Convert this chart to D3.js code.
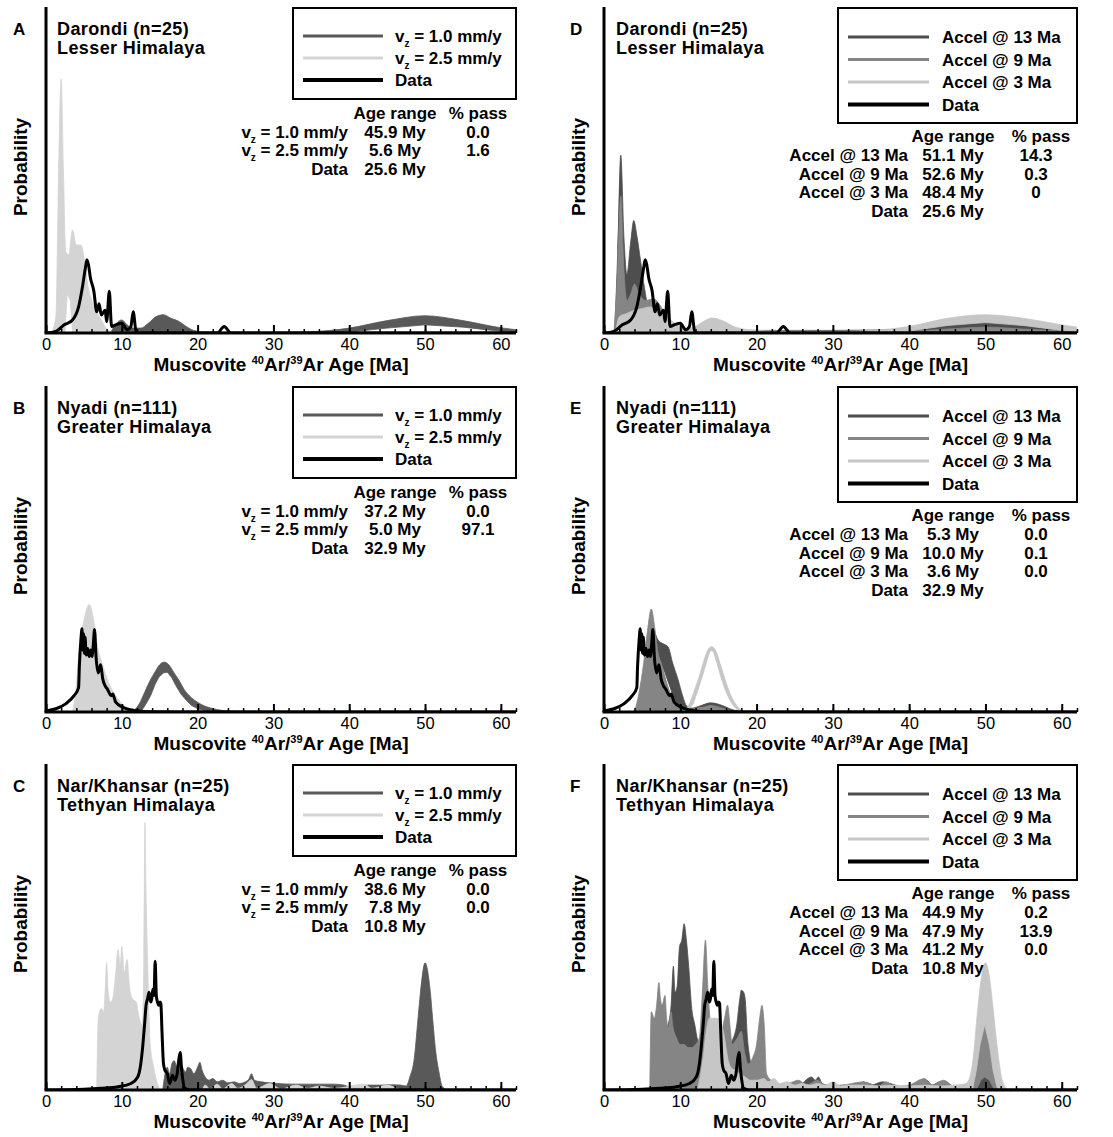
<!DOCTYPE html>
<html>
<head>
<meta charset="utf-8">
<script src="https://cdn.jsdelivr.net/npm/d3@7"></script>
<style>
  body { margin: 0; background: #fff; }
  svg { font-family: "Liberation Sans", Arial, Helvetica, sans-serif; }
</style>
</head>
<body>
<div id="app"></div>
<script>
// ---- Data (age in Ma, relative probability 0-100 of axis height) ----
const AGE_DOMAIN = [0, 62];
const PROB_DOMAIN = [0, 100];
const MAJOR_TICKS = [0, 10, 20, 30, 40, 50, 60];

const LEGEND_V = ["v_z = 1.0 mm/y", "v_z = 2.5 mm/y", "Data"];
const LEGEND_ACCEL = ["Accel @ 13 Ma", "Accel @ 9 Ma", "Accel @ 3 Ma", "Data"];
const TABLE_HEADER = ["Age range", "% pass"];
const ROWS_V = ["v_z = 1.0 mm/y", "v_z = 2.5 mm/y", "Data"];
const ROWS_ACCEL = ["Accel @ 13 Ma", "Accel @ 9 Ma", "Accel @ 3 Ma", "Data"];

const darondiRangeV = ["45.9 My", "5.6 My", "25.6 My"];
const darondiPassV = ["0.0", "1.6"];
const nyadiRangeV = ["37.2 My", "5.0 My", "32.9 My"];
const nyadiPassV = ["0.0", "97.1"];
const narRangeV = ["38.6 My", "7.8 My", "10.8 My"];
const narPassV = ["0.0", "0.0"];
const darondiRangeA = ["51.1 My", "52.6 My", "48.4 My", "25.6 My"];
const darondiPassA = ["14.3", "0.3", "0"];
const nyadiRangeA = ["5.3 My", "10.0 My", "3.6 My", "32.9 My"];
const nyadiPassA = ["0.0", "0.1", "0.0"];
const narRangeA = ["44.9 My", "47.9 My", "41.2 My", "10.8 My"];
const narPassA = ["0.2", "13.9", "0.0"];

// measured age PDFs
const darondiData = [[0,0],[1.3,0.5],[2.4,2.5],[3.5,4],[4.3,8],[4.8,14],[5.2,20],[5.4,22.5],[5.6,21],[5.85,17],[6.3,13],[6.7,6.5],[7.0,9],[7.3,5.5],[7.8,7],[8.0,3.5],[8.35,12.8],[8.65,2],[9.2,2.5],[10,3],[10.7,1],[11.2,2],[11.5,6.5],[11.9,0.3],[12.5,0],[22.6,0],[23.5,2],[24.4,0],[62,0]];
const nyadiData = [[0,0.3],[1.3,1],[2.6,2.5],[3.7,5],[4.3,7.5],[4.4,14],[4.6,22],[4.75,25.5],[4.85,19],[4.95,24],[5.05,18],[5.15,23],[5.3,17.5],[5.5,19.5],[5.7,17],[5.9,19],[6.1,17],[6.25,21],[6.4,25.3],[6.6,17],[6.9,12],[7.2,14.5],[7.5,10],[7.8,8],[8.1,7],[8.6,5],[8.8,5.5],[9.2,3],[10.1,1.5],[11.6,0.5],[13.8,0.1],[20,0],[62,0]];
const narData = [[0,0],[5,0.2],[7.3,0.5],[9.5,1],[11.2,2],[12.1,4],[12.5,8],[12.7,12],[13.0,20],[13.2,26],[13.4,28],[13.6,30],[13.8,27],[13.95,28],[14.1,31],[14.25,29],[14.4,39.5],[14.55,29],[14.7,27],[14.85,26],[15.05,27],[15.15,26.5],[15.3,18],[15.5,8],[15.7,6],[16.0,5],[16.3,2],[16.7,4.5],[17.0,3],[17.3,5],[17.5,9],[17.7,11.5],[17.9,6],[18.0,4],[18.3,0.5],[19,0],[62,0]];

// model envelopes, constant-velocity runs (upper and lower edges)
const darondiV10Upper = [[8.5,0],[9.3,3],[10,4],[10.7,2.5],[11.5,1.5],[12.5,1.5],[13.5,3],[14.5,5],[15.5,5.6],[16.5,4.5],[17.5,3.6],[18.5,2],[19.5,0.8],[21,0.3],[30,0.2],[35,0.4],[40,1.5],[45,3.8],[50,5.3],[55,3.8],[60,1.6],[62,1]];
const darondiV10Lower = [[8.5,0],[35,0],[40,0.3],[45,1.5],[50,2.5],[55,1.8],[60,0.5],[62,0.3]];
const darondiV25Upper = [[0.7,0],[1.3,5],[1.6,40],[2.0,78],[2.3,50],[2.6,25],[3.0,24],[3.5,31.6],[4.0,27],[4.6,27],[5.1,22],[5.5,15],[6.2,9],[7.3,4],[8.1,1],[9,0]];
const darondiV25Lower = [[0.7,0],[2.5,0],[2.8,12],[3.2,10],[3.5,0],[9,0]];

const nyadiV10Upper = [[11,0],[11.6,0.5],[12.3,2.5],[13,6],[13.7,9.5],[14.3,12],[15,14.5],[15.6,15.3],[16.2,14.5],[16.9,12],[17.6,9.5],[18.2,7],[18.9,5],[19.6,3.6],[20.5,2.3],[21.3,1.5],[22.5,0.8],[24,0.3],[27,0]];
const nyadiV10Lower = [[11,0],[12.5,0],[13.2,2.5],[13.8,5],[14.4,8.5],[14.9,10.7],[15.5,12],[16.0,12.2],[16.6,10.5],[17.1,8.2],[17.8,5.5],[18.5,3.6],[19.2,2],[20,1],[21,0.4],[22,0],[27,0]];
const nyadiV25Upper = [[3.5,0],[4.0,8],[4.4,20],[5.0,28],[5.7,33],[6.3,28],[6.8,20],[7.4,15],[8.1,10],[8.8,6.5],[9.5,4],[10.8,1],[12,0]];
const nyadiV25Lower = [[3.5,0],[12,0]];

const narV10Upper = [[15.4,0],[15.8,6],[16.0,7],[16.3,5],[16.6,8],[16.9,9],[17.3,7],[17.6,8.5],[18.0,7],[18.4,5.5],[18.7,7],[19.1,6.5],[19.5,5],[20.0,7],[20.3,8.5],[20.6,6],[21.0,4],[21.5,3],[22.0,3.5],[22.6,2.5],[23.3,3],[24,2.2],[24.8,2.5],[25.5,2],[26.3,2.5],[26.8,3.5],[27.1,5],[27.5,3],[28.4,2.5],[29.5,2.2],[30.5,2],[32.5,1.8],[36,1.8],[38,1.8],[39.3,1.5],[40.5,0.7],[41.5,1.2],[42.4,1.5],[44,1.5],[45.5,1.6],[46.8,1.5],[47.5,1.2],[48.0,4],[48.6,10],[49.0,20],[49.4,30],[50.0,39],[50.7,30],[51.0,22],[51.4,12],[51.8,6],[52.3,1],[53,0],[62,0]];
const narV10Lower = [[15.4,0],[62,0]];
const narV25Upper = [[6.7,0],[6.9,22],[7.3,25],[7.6,24],[7.75,28],[8.0,39],[8.2,30],[8.5,27],[8.8,28],[9.2,36],[9.5,43],[9.8,38],[10.0,44],[10.3,36],[10.7,40],[11.0,32],[11.4,28],[11.9,27],[12.3,22],[12.7,20],[12.9,40],[13.05,82],[13.2,60],[13.4,40],[13.75,14],[14.2,7],[14.7,2],[15.2,0],[20.5,0],[21,1.5],[21.6,0.3],[22.6,1.8],[23.3,0.3],[24.5,2],[25.3,0.5],[26.5,2],[27.1,3.2],[27.8,0.5],[29.5,2],[31,0.3],[33,1.5],[34.5,0.5],[36,1.2],[38,0.5],[42,1.8],[43,0.5],[45,1.5],[47,0],[62,0]];
const narV25Lower = [[6.7,0],[62,0]];

// model envelopes, accelerated runs
const darondiA13Upper = [[1.4,0],[1.8,25],[2.2,54.6],[2.6,30],[3.0,18],[3.5,28],[3.9,34.5],[4.3,30],[4.8,22],[5.3,14],[5.8,8],[6.5,7],[7.5,5],[8.5,3],[10,1.5],[12,1],[20,0.8],[30,0.8],[40,1.2],[45,2.4],[50,3.2],[55,2.4],[60,1.2],[62,0.8]];
const darondiA13Lower = [[1.4,0],[40,0],[45,1],[50,1.8],[55,1],[62,0.3]];
const darondiA9Upper = [[1.3,0],[1.7,15],[2.2,42],[2.6,20],[3.0,10],[3.5,12],[4.0,15],[4.6,12],[5.5,10],[6.5,10.5],[7.2,9],[8,6],[9,3],[10,1.5],[12,0.5],[20,0.3],[40,0.6],[45,1.2],[50,1.8],[55,1.2],[62,0.4]];
const darondiA9Lower = [[1.3,0],[62,0]];
const darondiA3Upper = [[1.5,0],[2.0,5],[3,6],[4,7],[5,7.5],[6,8],[7,7],[8,5.5],[9,3.5],[10,2],[11,1.5],[12,2],[13,3.5],[14.2,4.6],[15.5,3.8],[17,2],[19,1],[22,0.6],[30,0.5],[35,0.8],[40,2],[45,4.5],[50,5.6],[55,4.5],[60,2.5],[62,1.8]];
const darondiA3Lower = [[1.5,0],[38,0],[40,0.6],[45,2.3],[50,3.2],[55,2.3],[60,0.8],[62,0.5]];

const nyadiA13Upper = [[4.0,0],[4.5,3],[5.2,10],[5.8,18],[6.2,25],[6.7,24],[7.1,22],[7.7,21],[8.4,20],[9.0,15],[9.7,10],[10.3,5],[10.8,2],[11.5,1.2],[12.5,1.8],[14,2.8],[15.5,2],[16.5,1],[17.5,0.3],[19,0]];
const nyadiA13Lower = [[4.0,0],[5.3,0],[6.0,8],[6.6,15],[7.5,15],[8.0,12],[8.6,8],[9.2,4],[9.7,2],[10.5,0],[19,0]];
const nyadiA9Upper = [[4.0,0],[4.6,6],[5.2,15],[5.7,25],[6.2,31.6],[6.7,25],[7.1,18],[7.5,15],[8.1,10],[8.8,5],[9.5,2.5],[10.1,1.5],[11.5,1],[13,1.5],[14,2],[15.5,1.2],[17,0]];
const nyadiA9Lower = [[4.0,0],[17,0]];
const nyadiA3Upper = [[10.3,0],[11.2,2.5],[11.9,7],[12.5,11],[13.0,15],[13.6,19],[14.1,20],[14.6,19],[15.2,15],[15.8,10.5],[16.3,7],[16.9,3.8],[17.4,2],[18,0.5],[18.5,0]];
const nyadiA3Lower = [[10.8,0],[11.7,2.5],[12.35,7],[12.9,11],[13.4,15],[13.85,18.5],[14.1,18.8],[14.35,18.5],[14.8,15],[15.35,10.5],[15.85,7],[16.45,3.8],[16.95,2],[17.5,0.5],[18,0]];

const narA13Upper = [[6.4,0],[6.6,12],[7.0,14],[7.6,16],[8.0,18],[8.4,20],[8.8,26],[9.1,38],[9.3,30],[9.6,32],[9.9,44],[10.2,46],[10.5,51],[10.8,46],[11.1,38],[11.5,25],[11.9,20],[12.3,15],[12.8,13],[13.2,12],[13.6,14],[14.2,12],[15,10],[15.6,9],[16.2,12],[16.8,15],[17.4,20],[17.8,28],[18.0,30.6],[18.3,30],[18.5,28],[18.8,16],[19.1,10],[19.5,6],[19.8,4],[20.5,2.5],[21.5,1.5],[23,1],[25,1.5],[26,2],[26.7,3.5],[27.2,4],[27.7,3],[28.1,4],[28.6,2],[30,1.2],[33,1],[34,2.5],[35,1.5],[36.5,2.5],[37.5,2],[39,1],[40,0.8],[41.5,1.5],[42.3,3],[43,1.5],[44,2.5],[45,2],[46,1],[48,1],[49,3],[49.9,4],[51,3],[52,0.5],[53,0],[62,0]];
const narA13Lower = [[6.4,0],[62,0]];
const narA9Upper = [[6.0,0],[6.2,24],[6.6,22],[6.9,26],[7.2,33],[7.4,28],[7.6,26],[8.0,29],[8.2,22],[8.4,19],[8.8,24],[9.0,20],[9.5,16],[10,14],[10.5,14],[11,13],[11.5,13],[12,14],[12.5,16],[12.9,30],[13.3,46],[13.6,32],[14.0,20],[14.5,18],[15.0,18],[15.4,18],[15.8,22],[16.2,26],[16.5,20],[16.8,14],[17.2,15],[17.5,16],[18.0,18],[18.4,12],[18.9,8],[19.5,10],[20.0,14],[20.4,22],[20.7,26],[21.0,20],[21.3,5],[22,3],[22.4,3],[23,1.8],[24.1,2],[25.5,3],[26.5,1.5],[28,3],[29,1.5],[31,1.5],[34,2.5],[36,1.2],[37,2.5],[38,1],[40,1.5],[42,3.5],[43,1.5],[44.5,3],[46,1],[47.5,2],[48.3,5],[49,12],[49.5,18],[49.9,20],[50.4,18],[51,10],[51.6,4],[52.3,1],[53,0],[62,0]];
const narA9Lower = [[6.0,0],[48.8,0],[49.4,3],[49.9,4],[50.5,3],[51.2,0],[62,0]];
const narA3Upper = [[12.2,0],[12.6,4],[13.0,10],[13.4,18],[13.8,22],[14.3,22],[14.8,22],[15.3,21],[15.8,16],[16.2,10],[16.6,7],[17.2,6],[17.8,5],[18.5,4],[19.2,3],[20,3],[21,3.5],[21.5,2.5],[22.3,3.5],[23,2],[24,2.5],[25,1.5],[26,2],[27,1.5],[28,2],[29,1.5],[30,2.5],[31,1.2],[32,1.5],[34,1.5],[36,1.2],[38,1.5],[40,1.2],[42,1.5],[44,1.2],[46,1.5],[47.5,2],[48.3,8],[49,25],[49.5,35],[50,39],[50.5,35],[51,25],[51.6,12],[52.2,3],[53,0],[62,0]];
const narA3Lower = [[12.2,0],[48.3,0],[48.8,6],[49.3,14],[49.9,20],[50.5,14],[51,6],[51.6,0],[62,0]];

// ---- Layout and style ----
const WIDTH = 1113;
const HEIGHT = 1137;
const PLOT_H = 326;
const COL_X = [46, 604];
const COL_W = [470, 473];
const ROW_Y = [7, 386, 764];
const C_V10 = "#595959", C_V25 = "#d4d4d4";
const C_A13 = "#4e4e4e", C_A9 = "#858585", C_A3 = "#c6c6c6";

const LAYOUT = [
  { boxX: 247, boxH: 91, lineX: [257, 337], textX: 349, rowY: [29, 51, 73],
    labelX: 302, ageX: 349, passHeadX: 432, passX: 432, headY: 112, step: 18.6 },
  { boxX: 234, boxH: 115, lineX: [244, 325], textX: 338, rowY: [30, 52.5, 75, 97.5],
    labelX: 304, ageX: 349, passHeadX: 437, passX: 432, headY: 135, step: 18.8 }
];

const panels = [
  { letter: "A", col: 0, row: 0, site: "Darondi (n=25)", unit: "Lesser Himalaya",
    models: [{ color: C_V10, upper: darondiV10Upper, lower: darondiV10Lower },
             { color: C_V25, upper: darondiV25Upper, lower: darondiV25Lower }],
    data: darondiData, legend: LEGEND_V, legendColors: [C_V10, C_V25, "#000"],
    rows: ROWS_V, ranges: darondiRangeV, pass: darondiPassV },
  { letter: "B", col: 0, row: 1, site: "Nyadi (n=111)", unit: "Greater Himalaya",
    models: [{ color: C_V10, upper: nyadiV10Upper, lower: nyadiV10Lower },
             { color: C_V25, upper: nyadiV25Upper, lower: nyadiV25Lower }],
    data: nyadiData, legend: LEGEND_V, legendColors: [C_V10, C_V25, "#000"],
    rows: ROWS_V, ranges: nyadiRangeV, pass: nyadiPassV },
  { letter: "C", col: 0, row: 2, site: "Nar/Khansar (n=25)", unit: "Tethyan Himalaya",
    models: [{ color: C_V10, upper: narV10Upper, lower: narV10Lower },
             { color: C_V25, upper: narV25Upper, lower: narV25Lower }],
    data: narData, legend: LEGEND_V, legendColors: [C_V10, C_V25, "#000"],
    rows: ROWS_V, ranges: narRangeV, pass: narPassV },
  { letter: "D", col: 1, row: 0, site: "Darondi (n=25)", unit: "Lesser Himalaya",
    models: [{ color: C_A13, upper: darondiA13Upper, lower: darondiA13Lower },
             { color: C_A9, upper: darondiA9Upper, lower: darondiA9Lower },
             { color: C_A3, upper: darondiA3Upper, lower: darondiA3Lower }],
    data: darondiData, legend: LEGEND_ACCEL, legendColors: [C_A13, C_A9, C_A3, "#000"],
    rows: ROWS_ACCEL, ranges: darondiRangeA, pass: darondiPassA },
  { letter: "E", col: 1, row: 1, site: "Nyadi (n=111)", unit: "Greater Himalaya",
    models: [{ color: C_A13, upper: nyadiA13Upper, lower: nyadiA13Lower },
             { color: C_A9, upper: nyadiA9Upper, lower: nyadiA9Lower },
             { color: C_A3, upper: nyadiA3Upper, lower: nyadiA3Lower }],
    data: nyadiData, legend: LEGEND_ACCEL, legendColors: [C_A13, C_A9, C_A3, "#000"],
    rows: ROWS_ACCEL, ranges: nyadiRangeA, pass: nyadiPassA },
  { letter: "F", col: 1, row: 2, site: "Nar/Khansar (n=25)", unit: "Tethyan Himalaya",
    models: [{ color: C_A13, upper: narA13Upper, lower: narA13Lower },
             { color: C_A9, upper: narA9Upper, lower: narA9Lower },
             { color: C_A3, upper: narA3Upper, lower: narA3Lower }],
    data: narData, legend: LEGEND_ACCEL, legendColors: [C_A13, C_A9, C_A3, "#000"],
    rows: ROWS_ACCEL, ranges: narRangeA, pass: narPassA }
];

const svg = d3.select("#app").append("svg")
  .attr("width", WIDTH).attr("height", HEIGHT);
svg.append("rect").attr("width", WIDTH).attr("height", HEIGHT).attr("fill", "#fff");

// writes "v_z = ..." with a subscript z, other labels as-is
function writeLabel(text, label) {
  if (label.startsWith("v_z")) {
    text.append("tspan").text("v");
    text.append("tspan").attr("font-size", 10).attr("dy", 5).text("z");
    text.append("tspan").attr("dy", -5).text(label.slice(3));
  } else {
    text.text(label);
  }
}

panels.forEach((p, i) => {
  const L = LAYOUT[p.col];
  const w = COL_W[p.col];
  const g = svg.append("g")
    .attr("transform", `translate(${COL_X[p.col]},${ROW_Y[p.row]})`);

  const x = d3.scaleLinear().domain(AGE_DOMAIN).range([0, w]);
  const y = d3.scaleLinear().domain(PROB_DOMAIN).range([PLOT_H, 0]);

  g.append("clipPath").attr("id", "clip" + i)
    .append("rect").attr("width", w).attr("height", PLOT_H);
  const plot = g.append("g").attr("clip-path", `url(#clip${i})`);

  const smooth = d3.line().x((d) => x(d[0])).y((d) => y(d[1])).curve(d3.curveMonotoneX);
  const straight = d3.line().x((d) => x(d[0])).y((d) => y(d[1]));

  // model envelopes as filled bands
  plot.selectAll("path.model")
    .data(p.models)
    .join("path")
    .attr("class", "model")
    .attr("d", (m) => smooth(m.upper) + straight(m.lower.slice().reverse()).replace(/^M/, "L") + "Z")
    .attr("fill", (m) => m.color)
    .attr("stroke", (m) => m.color)
    .attr("stroke-width", 0.8);

  // measured PDF
  plot.append("path")
    .attr("d", smooth(p.data))
    .attr("fill", "none")
    .attr("stroke", "#000")
    .attr("stroke-width", 3)
    .attr("stroke-linejoin", "round");

  // x axis: minor and major ticks point inward
  const minor = g.append("g").attr("transform", `translate(0,${PLOT_H})`)
    .call(d3.axisBottom(x).tickValues(d3.range(0, 63, 2)).tickSizeInner(-4).tickSizeOuter(0).tickFormat(""));
  minor.select(".domain").remove();
  minor.selectAll("line").attr("stroke-width", 1.5);

  const major = g.append("g").attr("transform", `translate(0,${PLOT_H})`)
    .call(d3.axisBottom(x).tickValues(MAJOR_TICKS).tickSizeInner(-8).tickSizeOuter(0).tickPadding(5));
  major.select(".domain").remove();
  major.selectAll("line").attr("stroke-width", 2);
  major.selectAll("text")
    .attr("font-size", 16.5)
    .attr("font-family", "'Liberation Sans', Arial, sans-serif")
    .attr("fill", "#000");

  g.append("line").attr("x1", -1.5).attr("x2", w).attr("y1", PLOT_H).attr("y2", PLOT_H)
    .attr("stroke", "#000").attr("stroke-width", 3);
  g.append("line").attr("x1", 0).attr("x2", 0).attr("y1", 0).attr("y2", PLOT_H)
    .attr("stroke", "#000").attr("stroke-width", 3);

  // axis titles
  const xt = g.append("text")
    .attr("x", w / 2).attr("y", PLOT_H + 38)
    .attr("text-anchor", "middle")
    .attr("font-size", 19).attr("font-weight", "bold");
  xt.append("tspan").text("Muscovite ");
  xt.append("tspan").attr("font-size", 11).attr("dy", -7).text("40");
  xt.append("tspan").attr("dy", 7).text("Ar/");
  xt.append("tspan").attr("font-size", 11).attr("dy", -7).text("39");
  xt.append("tspan").attr("dy", 7).text("Ar Age [Ma]");

  g.append("text")
    .attr("transform", `translate(-19,160) rotate(-90)`)
    .attr("text-anchor", "middle")
    .attr("font-size", 19).attr("font-weight", "bold")
    .text("Probability");

  // panel letter and site name
  g.append("text").attr("x", p.col === 0 ? -33 : -34).attr("y", 28)
    .attr("font-size", 17).attr("font-weight", "bold").text(p.letter);
  g.append("text").attr("x", p.col === 0 ? 11 : 12).attr("y", 28)
    .attr("font-size", 18).attr("font-weight", "bold").attr("letter-spacing", 0.4).text(p.site);
  g.append("text").attr("x", p.col === 0 ? 11 : 12).attr("y", 47)
    .attr("font-size", 18).attr("font-weight", "bold").attr("letter-spacing", 0.4).text(p.unit);

  // legend
  g.append("rect")
    .attr("x", L.boxX).attr("y", 1)
    .attr("width", w - L.boxX).attr("height", L.boxH)
    .attr("fill", "#fff").attr("stroke", "#000").attr("stroke-width", 2);
  const items = g.selectAll("g.leg")
    .data(p.legend)
    .join("g")
    .attr("class", "leg")
    .attr("transform", (d, k) => `translate(0,${L.rowY[k]})`);
  items.append("line")
    .attr("x1", L.lineX[0]).attr("x2", L.lineX[1])
    .attr("stroke", (d, k) => p.legendColors[k])
    .attr("stroke-width", (d) => (d === "Data" ? 4 : 3));
  items.append("text")
    .attr("x", L.textX).attr("y", 6)
    .attr("font-size", 17).attr("font-weight", "bold")
    .each(function (d) { writeLabel(d3.select(this), d); });

  // stats table
  const table = g.append("g").attr("font-size", 17).attr("font-weight", "bold");
  table.append("text").attr("x", L.ageX).attr("y", L.headY)
    .attr("text-anchor", "middle").text(TABLE_HEADER[0]);
  table.append("text").attr("x", L.passHeadX).attr("y", L.headY)
    .attr("text-anchor", "middle").text(TABLE_HEADER[1]);
  p.rows.forEach((label, k) => {
    const ry = L.headY + L.step * (k + 1);
    const t = table.append("text").attr("x", L.labelX).attr("y", ry).attr("text-anchor", "end");
    writeLabel(t, label);
    table.append("text").attr("x", L.ageX).attr("y", ry)
      .attr("text-anchor", "middle").text(p.ranges[k]);
    if (k < p.pass.length) {
      table.append("text").attr("x", L.passX).attr("y", ry)
        .attr("text-anchor", "middle").text(p.pass[k]);
    }
  });
});
</script>
</body>
</html>
